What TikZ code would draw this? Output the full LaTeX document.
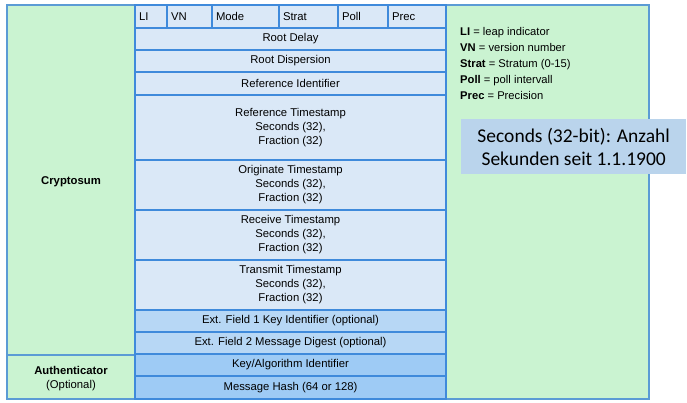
\documentclass[tikz,border=0pt]{standalone}
\usepackage{fontspec}
\setmainfont{Liberation Sans}
\newfontfamily\calibri{Carlito}
\definecolor{frame}{HTML}{5B9BD5}
\definecolor{rowline}{HTML}{3F8ADB}
\definecolor{mint}{HTML}{CAF3D1}
\definecolor{pale}{HTML}{DAE8F7}
\definecolor{mid}{HTML}{B7D7F5}
\definecolor{deep}{HTML}{9ECBF5}
\definecolor{note}{HTML}{BAD4EC}
\tikzset{
  cell/.style={draw=rowline, line width=1.1pt, inner sep=0pt, outer sep=0pt,
    anchor=north west, align=center, font=\fontsize{11.3}{14}\selectfont},
  area/.style={draw=frame, line width=1.3pt, fill=mint, inner sep=0pt, outer sep=0pt, anchor=north west},
}
% \fieldbox{name}{x1}{y1}{x2}{y2}{fill}{text}
\newcommand\fieldbox[7]{%
  \pgfmathsetmacro\boxw{#4-#2}\pgfmathsetmacro\boxh{#5-#3}%
  \node[cell, fill=#6, minimum width=\boxw pt, minimum height=\boxh pt] (#1) at (#2,#3) {#7};}
% \headbox{name}{x1}{y1}{x2}{y2}{text}
\newcommand\headbox[6]{%
  \pgfmathsetmacro\boxw{#4-#2}\pgfmathsetmacro\boxh{#5-#3}\pgfmathsetmacro\boxt{#4-#2-8}%
  \node[cell, fill=pale, minimum width=\boxw pt, minimum height=\boxh pt, text width=\boxt pt, align=left] (#1) at (#2,#3) {#6};}
\begin{document}
\begin{tikzpicture}[x=1pt,y=-1pt]
\useasboundingbox (0,0) rectangle (687,403);
% outer frame and column areas
\node[area, minimum width=642pt, minimum height=394pt] (outer) at (7,5) {};
\node[area, minimum width=128pt, minimum height=350pt] (crypto) at (7,5) {};
\node[area, minimum width=128pt, minimum height=44pt] (auth) at (7,355) {};
\node[font=\fontsize{11.3}{14}\selectfont\bfseries] (cryptolabel) at ([yshift=-1.5pt]crypto.center) {Cryptosum};
\node[font=\fontsize{11.3}{14}\selectfont, align=center] (authlabel) at ([yshift=-1.5pt]auth.center) {\textbf{Authenticator}\\(Optional)};
% header word
\headbox{li}{135}{5}{167}{28}{LI}
\headbox{vn}{167}{5}{212}{28}{VN}
\headbox{mode}{212}{5}{279}{28}{Mode}
\headbox{strat}{279}{5}{338}{28}{Strat}
\headbox{poll}{338}{5}{388}{28}{Poll}
\headbox{prec}{388}{5}{446}{28}{Prec}
% packet fields
\fieldbox{rdelay}{135}{28}{446}{50}{pale}{Root Delay}
\fieldbox{rdisp}{135}{50}{446}{72}{pale}{Root Dispersion}
\fieldbox{refid}{135}{72}{446}{95}{pale}{Reference Identifier}
\fieldbox{refts}{135}{95}{446}{160}{pale}{Reference Timestamp\\Seconds (32),\\Fraction (32)}
\fieldbox{orgts}{135}{160}{446}{210}{pale}{Originate Timestamp\\Seconds (32),\\Fraction (32)}
\fieldbox{rcvts}{135}{210}{446}{260}{pale}{Receive Timestamp\\Seconds (32),\\Fraction (32)}
\fieldbox{xmtts}{135}{260}{446}{310}{pale}{Transmit Timestamp\\Seconds (32),\\Fraction (32)}
\fieldbox{ext1}{135}{310}{446}{332}{mid}{Ext. Field 1 Key Identifier (optional)}
\fieldbox{ext2}{135}{332}{446}{354}{mid}{Ext. Field 2 Message Digest (optional)}
\fieldbox{keyid}{135}{354}{446}{376}{deep}{Key/Algorithm Identifier}
\fieldbox{hash}{135}{376}{446}{399}{deep}{Message Hash (64 or 128)}
% legend
\node[anchor=north west, inner sep=0pt, align=left, font=\fontsize{11.2}{16}\selectfont] (legend) at (460,27)
  {\textbf{LI} = leap indicator\\\textbf{VN} = version number\\\textbf{Strat} = Stratum (0-15)\\\textbf{Poll} = poll intervall\\\textbf{Prec} = Precision};
% remark on the seconds field
\node[fill=note, anchor=north west, inner sep=0pt, minimum width=225pt, minimum height=55pt, align=center,
  font=\calibri\fontsize{19.5}{23}\selectfont] (remark) at (461,119)
  {Seconds (32-bit): Anzahl\\Sekunden seit 1.1.1900};
\end{tikzpicture}
\end{document}
